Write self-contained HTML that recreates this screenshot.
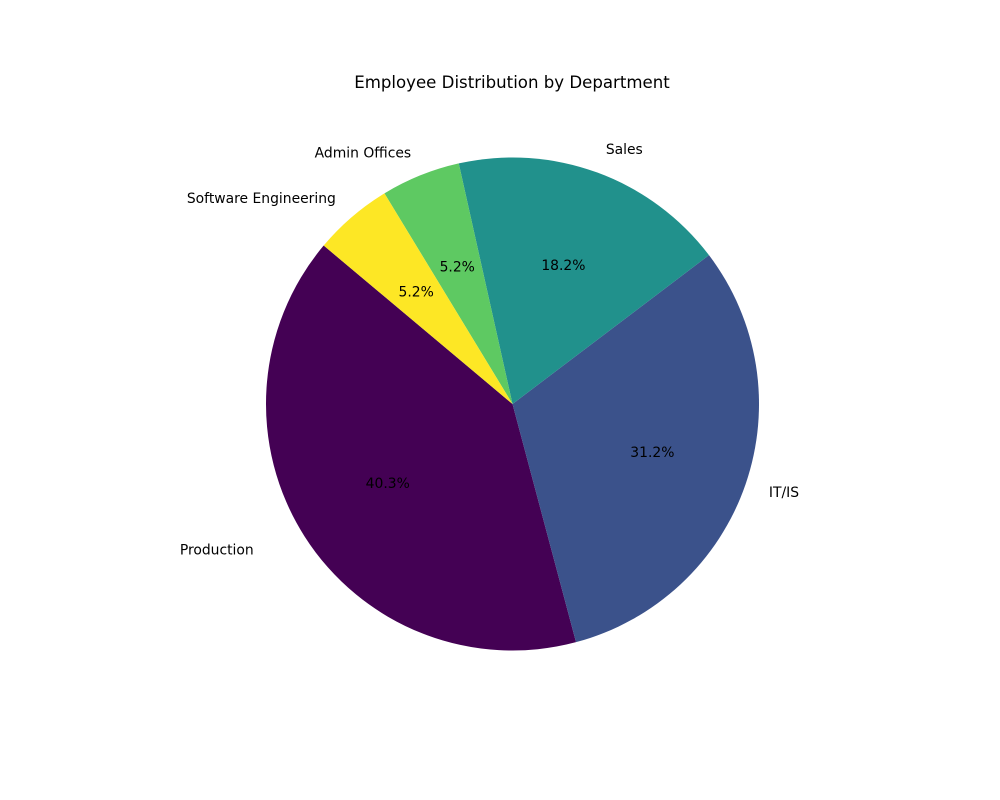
<!DOCTYPE html>
<html><head><meta charset="utf-8"><style>
body{margin:0;background:#fff;}
svg{display:block;font-family:"DejaVu Sans","Liberation Sans",sans-serif;}
</style></head><body>
<svg id="chart" width="1000" height="800">
<rect width="1000" height="800" fill="#fff"/>
<text x="512" y="88" text-anchor="middle" font-size="16.6" fill="#000">Employee Distribution by Department</text>
<g id="slices"></g>
<g id="labels"></g>
</svg>
<script>
const categories = ["Production","IT/IS","Sales","Admin Offices","Software Engineering"];
const values = [31,24,14,4,4];
const colors = ["#440154","#3b528b","#21918c","#5ec962","#fde725"];
const labelShift = [-30,0,0,0,0];
const cx=512.5, cy=404, r=246.5, startAngle=140;
const NS="http://www.w3.org/2000/svg";
const total = values.reduce((a,b)=>a+b,0);
const sg=document.getElementById('slices'), lg=document.getElementById('labels');
function pt(deg,rad){const a=deg*Math.PI/180;return [cx+rad*Math.cos(a), cy-rad*Math.sin(a)];}
let ang=startAngle;
values.forEach((v,i)=>{
  const sweep=v/total*360, a0=ang, a1=ang+sweep;
  const p0=pt(a0,r), p1=pt(a1,r);
  const path=document.createElementNS(NS,'path');
  path.setAttribute('d',`M${cx},${cy} L${p0[0]},${p0[1]} A${r},${r} 0 ${sweep>180?1:0} 0 ${p1[0]},${p1[1]} Z`);
  path.setAttribute('fill',colors[i]);
  
  
  sg.appendChild(path);
  const mid=(a0+a1)/2;
  const lp=pt(mid,r*1.1);
  const t=document.createElementNS(NS,'text');
  t.setAttribute('x',lp[0]+labelShift[i]);t.setAttribute('y',lp[1]+4.8);
  t.setAttribute('font-size','13.9');
  t.setAttribute('text-anchor', lp[0]<cx?'end':'start');
  t.textContent=categories[i];
  
  
  lg.appendChild(t);
  const pp=pt(mid,r*0.6);
  const t2=document.createElementNS(NS,'text');
  t2.setAttribute('x',pp[0]);t2.setAttribute('y',pp[1]+4.8);
  t2.setAttribute('font-size','13.9');
  t2.setAttribute('text-anchor','middle');
  t2.textContent=(v/total*100).toFixed(1)+'%';
  
  
  lg.appendChild(t2);
  ang=a1;
});
</script>
</body></html>
